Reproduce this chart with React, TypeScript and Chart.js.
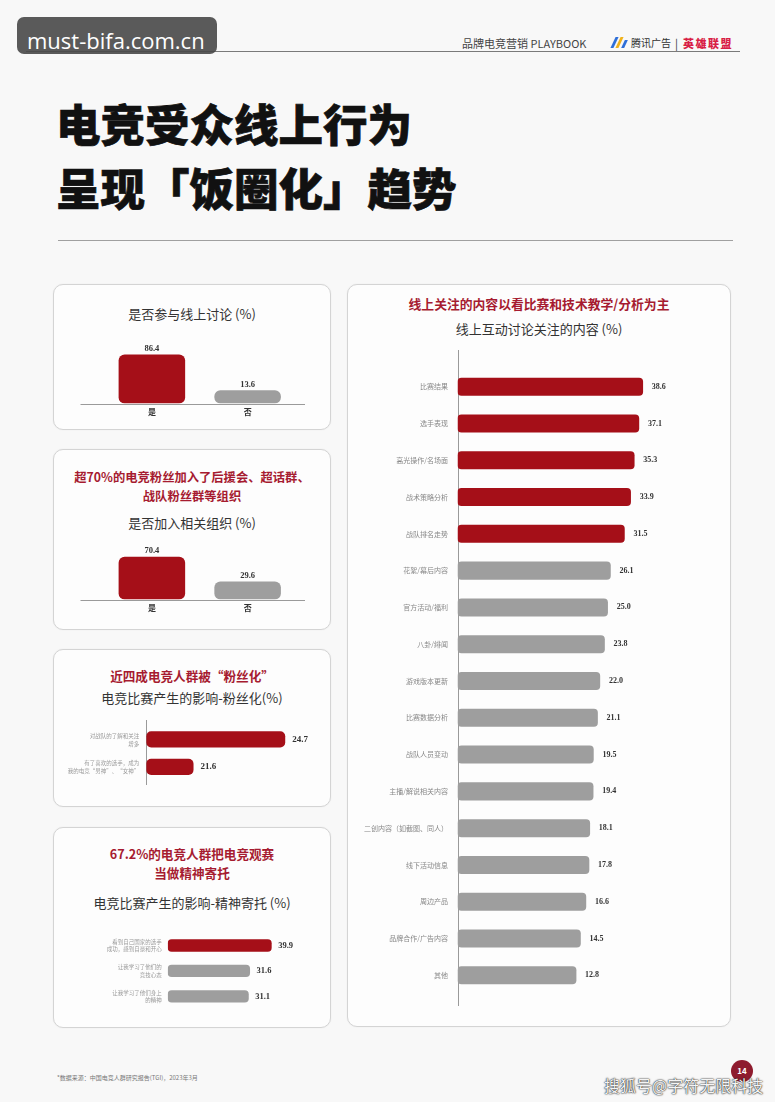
import React, { useEffect, useRef } from "react";
import { Chart, registerables } from "chart.js";
Chart.register(...registerables);

// ---------------- DATA ----------------
const discussLabels = ["是", "否"];
const discussValues = [86.4, 13.6];

const orgLabels = ["是", "否"];
const orgValues = [70.4, 29.6];

const fanLabels = ["对战队的了解和关注\n增多", "有了喜欢的选手，成为\n我的电竞“男神”、“女神”"];
const fanValues = [24.7, 21.6];

const spiritLabels = ["看到自己国家的选手\n成功，感到自豪和开心", "让我学习了他们的\n竞技心态", "让我学习了他们身上\n的精神"];
const spiritValues = [39.9, 31.6, 31.1];

const contentLabels = [
  "比赛结果", "选手表现", "高光操作/名场面", "战术策略分析", "战队排名走势",
  "花絮/幕后内容", "官方活动/福利", "八卦/绯闻", "游戏版本更新", "比赛数据分析",
  "战队人员变动", "主播/解说相关内容", "二创内容（如截图、同人）", "线下活动信息", "周边产品",
  "品牌合作/广告内容", "其他",
];
const contentValues = [38.6, 37.1, 35.3, 33.9, 31.5, 26.1, 25.0, 23.8, 22.0, 21.1, 19.5, 19.4, 18.1, 17.8, 16.6, 14.5, 12.8];
const contentHighlightCount = 5;

// ---------------- STYLE ----------------
const RED = "#a50f18";
const GREY = "#9e9e9e";
const TITLE_RED = "#a61b30";
const CJK = "'Noto Sans CJK SC', 'Noto Sans', sans-serif";

type Spec = {
  labels: string[];
  values: number[];
  colors: string[];
  horizontal: boolean;
  min: number;
  max: number;
  box: { left: number; top: number; width: number; height: number };
  pad: { left: number; right: number; top: number; bottom: number };
  barPct: number;
  radius: number;
  valueFont: string;
  valueGap: number;
  catFont: string;
  catColor: string;
  catGap: number;
  catLineH: number;
  axis?: { a: number; b: number };
};

const colorsFor = (n: number, red: number) => Array.from({ length: n }, (_, i) => (i < red ? RED : GREY));

const specs: Spec[] = [
  {
    labels: discussLabels, values: discussValues, colors: colorsFor(2, 1), horizontal: false,
    min: -13.5, max: 100,
    box: { left: 53, top: 330, width: 278, height: 100 },
    pad: { left: 51, right: 35.5, top: 17.9, bottom: 26.5 },
    barPct: 0.695, radius: 6,
    valueFont: "bold 8.5px 'Liberation Serif'", valueGap: 1.5,
    catFont: `bold 8px ${CJK}`, catColor: "#333", catGap: 8, catLineH: 9,
    axis: { a: 23.5, b: 9.5 },
  },
  {
    labels: orgLabels, values: orgValues, colors: colorsFor(2, 1), horizontal: false,
    min: 0, max: 100,
    box: { left: 53, top: 535, width: 278, height: 90 },
    pad: { left: 51, right: 35.5, top: 3.9, bottom: 25.5 },
    barPct: 0.695, radius: 6,
    valueFont: "bold 8.5px 'Liberation Serif'", valueGap: 1.5,
    catFont: `bold 8px ${CJK}`, catColor: "#333", catGap: 8, catLineH: 9,
    axis: { a: 23.5, b: 9.5 },
  },
  {
    labels: fanLabels, values: fanValues, colors: colorsFor(2, 2), horizontal: true,
    min: 20, max: 25,
    box: { left: 53, top: 712, width: 278, height: 80 },
    pad: { left: 93.2, right: 36.9, top: 13.7, bottom: 11.4 },
    barPct: 0.59, radius: 5,
    valueFont: "bold 9px 'Liberation Serif'", valueGap: 7,
    catFont: `5.5px ${CJK}`, catColor: "#999", catGap: 7, catLineH: 8,
    axis: { a: 5.7, b: 4.4 },
  },
  {
    labels: spiritLabels, values: spiritValues, colors: colorsFor(3, 1), horizontal: true,
    min: 0, max: 50,
    box: { left: 53, top: 925, width: 278, height: 95 },
    pad: { left: 114.7, right: 33, top: 7.8, bottom: 11 },
    barPct: 0.485, radius: 4,
    valueFont: "bold 8.5px 'Liberation Serif'", valueGap: 6.5,
    catFont: `5.5px ${CJK}`, catColor: "#999", catGap: 6, catLineH: 7.7,
  },
  {
    labels: contentLabels, values: contentValues, colors: colorsFor(contentValues.length, contentHighlightCount), horizontal: true,
    min: -33.2, max: 60,
    box: { left: 347, top: 340, width: 384, height: 680 },
    pad: { left: 110.5, right: 32.6, top: 28.3, bottom: 26.3 },
    barPct: 0.49, radius: 4,
    valueFont: "bold 8px 'Liberation Serif'", valueGap: 8.7,
    catFont: `7px ${CJK}`, catColor: "#888", catGap: 9.5, catLineH: 9,
    axis: { a: 18.3, b: 12.3 },
  },
];

function BarChart({ spec }: { spec: Spec }) {
  const ref = useRef<HTMLCanvasElement>(null);
  useEffect(() => {
    const s = spec;
    const decor = {
      id: "decor",
      beforeDatasetsDraw(chart: any) {
        if (!s.axis) return;
        const ctx = chart.ctx;
        const area = chart.chartArea;
        ctx.save();
        ctx.strokeStyle = "#9a9a9a";
        ctx.lineWidth = 1;
        ctx.beginPath();
        if (s.horizontal) {
          const x = Math.round(area.left) + 0.5;
          ctx.moveTo(x, area.top - s.axis.a);
          ctx.lineTo(x, area.bottom + s.axis.b);
        } else {
          const y = Math.round(area.bottom) + 0.5;
          ctx.moveTo(area.left - s.axis.a, y);
          ctx.lineTo(area.right + s.axis.b, y);
        }
        ctx.stroke();
        ctx.restore();
      },
      afterDatasetsDraw(chart: any) {
        const ctx = chart.ctx;
        const area = chart.chartArea;
        const meta = chart.getDatasetMeta(0);
        ctx.save();
        meta.data.forEach((el: any, i: number) => {
          const { x, y } = el.getProps(["x", "y"], true);
          const v = s.values[i];
          const txt = v.toFixed(1);
          ctx.fillStyle = "#333";
          ctx.font = s.valueFont;
          if (s.horizontal) {
            ctx.textAlign = "left";
            ctx.textBaseline = "middle";
            ctx.fillText(txt, x + s.valueGap, y);
          } else {
            ctx.textAlign = "center";
            ctx.textBaseline = "bottom";
            ctx.fillText(txt, x, y - s.valueGap);
          }
          ctx.fillStyle = s.catColor;
          ctx.font = s.catFont;
          const lines = s.labels[i].split("\n");
          if (s.horizontal) {
            ctx.textAlign = "right";
            ctx.textBaseline = "middle";
            const h = (lines.length - 1) * s.catLineH;
            lines.forEach((ln, k) => ctx.fillText(ln, area.left - s.catGap, y - h / 2 + k * s.catLineH));
          } else {
            ctx.textAlign = "center";
            ctx.textBaseline = "middle";
            ctx.fillText(lines[0], x, area.bottom + s.catGap);
          }
        });
        ctx.restore();
      },
    };
    const chart = new Chart(ref.current as HTMLCanvasElement, {
      type: "bar",
      data: {
        labels: s.labels,
        datasets: [
          {
            data: s.values,
            backgroundColor: s.colors,
            base: s.min,
            barPercentage: s.barPct,
            categoryPercentage: 1,
            borderRadius: s.radius,
            borderSkipped: false,
          } as any,
        ],
      },
      options: {
        indexAxis: s.horizontal ? "y" : "x",
        responsive: false,
        animation: false,
        devicePixelRatio: 1,
        layout: { padding: s.pad },
        plugins: { legend: { display: false }, tooltip: { enabled: false }, title: { display: false } },
        scales: s.horizontal
          ? { x: { type: "linear", display: false, min: s.min, max: s.max }, y: { display: false } }
          : { x: { display: false }, y: { type: "linear", display: false, min: s.min, max: s.max } },
      } as any,
      plugins: [decor],
    });
    return () => chart.destroy();
  }, [spec]);
  const b = spec.box;
  return (
    <canvas
      ref={ref}
      width={b.width}
      height={b.height}
      style={{ position: "absolute", left: b.left, top: b.top, width: b.width, height: b.height }}
    />
  );
}

function Txt(props: {
  x: number; y: number; w?: number; size: number; color?: string; weight?: number | string;
  align?: "left" | "center" | "right"; children: React.ReactNode; family?: string; style?: React.CSSProperties;
}) {
  const lh = Math.ceil(props.size * 1.4);
  return (
    <div
      style={{
        position: "absolute",
        left: props.x,
        top: props.y - lh / 2,
        width: props.w,
        height: lh,
        lineHeight: `${lh}px`,
        fontSize: props.size,
        color: props.color || "#222",
        fontWeight: props.weight || 400,
        textAlign: props.align || "left",
        fontFamily: props.family || CJK,
        whiteSpace: "nowrap",
        ...props.style,
      }}
    >
      {props.children}
    </div>
  );
}

function Panel({ l, t, r, b }: { l: number; t: number; r: number; b: number }) {
  return (
    <div
      style={{
        position: "absolute",
        left: l,
        top: t,
        width: r - l,
        height: b - t,
        boxSizing: "border-box",
        border: "1px solid #d4d4d4",
        borderRadius: 10,
        background: "#fdfdfd",
        boxShadow: "0 0 2px rgba(0,0,0,0.06)",
      }}
    />
  );
}

export default function App() {
  const L = 53, W = 278;
  const heavy: React.CSSProperties = { WebkitTextStroke: "0.7px #111" } as any;
  return (
    <div
      style={{
        position: "absolute",
        left: 0,
        top: 0,
        width: 775,
        height: 1102,
        overflow: "hidden",
        background: "#f8f8f8",
        fontFamily: CJK,
      }}
    >
      {/* header */}
      <div style={{ position: "absolute", left: 26, top: 51, width: 714, height: 1, background: "#7a7a7a" }} />
      <Txt x={462} y={43} size={11} color="#444">品牌电竞营销 PLAYBOOK</Txt>
      <div style={{ position: "absolute", left: 613, top: 37, width: 3, height: 11, background: "#2f6fd8", transform: "skewX(-25deg)" }} />
      <div style={{ position: "absolute", left: 618, top: 37, width: 3, height: 11, background: "#f0b21a", transform: "skewX(-25deg)" }} />
      <div style={{ position: "absolute", left: 623, top: 40, width: 3, height: 8, background: "#2f6fd8", transform: "skewX(-25deg)" }} />
      <Txt x={631} y={43} size={10} color="#333">腾讯广告</Txt>
      <Txt x={675} y={43} size={11} color="#333">|</Txt>
      <Txt x={683} y={43} size={11} color="#d81e46" weight={900} style={{ letterSpacing: 1.5 }}>英雄联盟</Txt>

      {/* watermark box */}
      <div
        style={{
          position: "absolute",
          left: 17,
          top: 17,
          width: 200,
          height: 37,
          borderRadius: 7,
          background: "rgba(72,72,72,0.9)",
        }}
      />
      <Txt x={27} y={40} size={22} color="#fff" family="'Open Sans', sans-serif">must-bifa.com.cn</Txt>

      {/* main title */}
      <Txt x={56} y={122} size={44.5} color="#111" weight={900} style={heavy}>电竞受众线上行为</Txt>
      <Txt x={56} y={186} size={44.5} color="#111" weight={900} style={heavy}>呈现「饭圈化」趋势</Txt>
      <div style={{ position: "absolute", left: 58, top: 240, width: 675, height: 1, background: "#a0a0a0" }} />

      {/* panels */}
      <Panel l={53} t={284} r={331} b={430} />
      <Panel l={53} t={449} r={331} b={630} />
      <Panel l={53} t={649} r={331} b={807} />
      <Panel l={53} t={827} r={331} b={1028} />
      <Panel l={347} t={284} r={731} b={1027} />

      {/* panel 1 */}
      <Txt x={L} w={W} y={313} size={13} color="#333" align="center">是否参与线上讨论 (%)</Txt>
      {/* panel 2 */}
      <Txt x={L} w={W} y={477} size={12.3} color={TITLE_RED} weight={700} align="center">超70%的电竞粉丝加入了后援会、超话群、</Txt>
      <Txt x={L} w={W} y={496} size={12.3} color={TITLE_RED} weight={700} align="center">战队粉丝群等组织</Txt>
      <Txt x={L} w={W} y={522} size={13} color="#333" align="center">是否加入相关组织 (%)</Txt>
      {/* panel 3 */}
      <Txt x={L} w={W} y={676} size={12.6} color={TITLE_RED} weight={700} align="center">近四成电竞人群被“粉丝化”</Txt>
      <Txt x={L} w={W} y={697} size={13} color="#333" align="center">电竞比赛产生的影响-粉丝化(%)</Txt>
      {/* panel 4 */}
      <Txt x={L} w={W} y={854} size={12.6} color={TITLE_RED} weight={700} align="center">67.2%的电竞人群把电竞观赛</Txt>
      <Txt x={L} w={W} y={873} size={12.6} color={TITLE_RED} weight={700} align="center">当做精神寄托</Txt>
      <Txt x={L} w={W} y={902} size={13} color="#333" align="center">电竞比赛产生的影响-精神寄托 (%)</Txt>
      {/* right panel */}
      <Txt x={347} w={384} y={304} size={12.8} color={TITLE_RED} weight={700} align="center">线上关注的内容以看比赛和技术教学/分析为主</Txt>
      <Txt x={347} w={384} y={328} size={13} color="#333" align="center">线上互动讨论关注的内容 (%)</Txt>

      {specs.map((s, i) => (
        <BarChart key={i} spec={s} />
      ))}

      {/* footer */}
      <Txt x={57} y={1077} size={6} color="#777">*数据来源：中国电竞人群研究报告(TGI)，2023年3月</Txt>
      <div
        style={{
          position: "absolute",
          left: 731,
          top: 1060,
          width: 22,
          height: 22,
          borderRadius: 11,
          background: "#8e1b2e",
          color: "#fff",
          fontSize: 8,
          fontWeight: 700,
          lineHeight: "22px",
          textAlign: "center",
        }}
      >
        14
      </div>
      <Txt
        x={604}
        y={1085}
        size={16}
        color="#f4f4f4"
        style={{ textShadow: "0 0 2px #222, 0 0 1px #000" }}
      >
        搜狐号@字符无限科技
      </Txt>
    </div>
  );
}
